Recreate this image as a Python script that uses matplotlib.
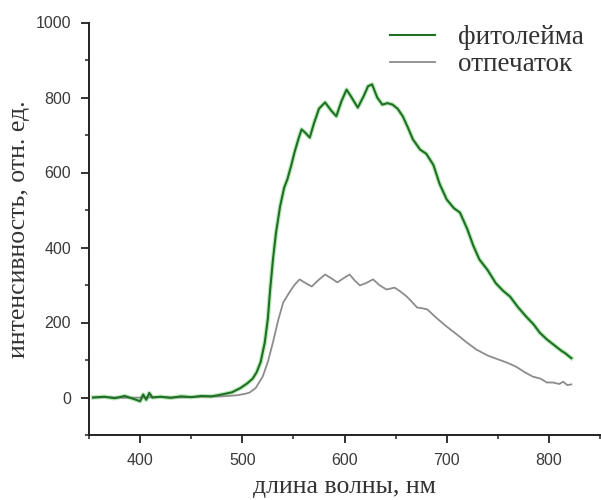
import numpy as np
import matplotlib.pyplot as plt
from matplotlib.ticker import MultipleLocator

# Спектры люминесценции: длина волны (нм) и интенсивность (отн. ед.)
wl_phyto = [354, 365, 375, 385, 395, 400, 403, 406, 409, 412, 420, 430, 440, 450,
            460, 470, 480, 490, 498, 505, 510, 514, 518, 522, 525, 527, 530, 533,
            537, 541, 544, 548, 551, 555, 558, 562, 566, 570, 575, 581, 587, 592,
            597, 602, 607, 613, 619, 623, 627, 632, 637, 642, 647, 652, 657, 662,
            667, 674, 680, 687, 693, 700, 707, 713, 720, 726, 732, 740, 748, 755,
            762, 770, 778, 785, 791, 798, 805, 812, 816, 820, 822]
int_phyto = [0, 2, -2, 4, -5, -10, 8, -6, 12, 0, 2, -1, 3, 1,
             4, 3, 8, 14, 25, 38, 50, 67, 95, 147, 210, 280, 368, 440,
             510, 560, 581, 620, 653, 690, 715, 705, 693, 730, 770, 787, 765, 750,
             790, 821, 800, 773, 805, 830, 835, 800, 781, 785, 781, 770, 750, 720,
             688, 661, 650, 620, 570, 528, 505, 493, 450, 405, 368, 340, 305, 285,
             269, 240, 215, 195, 173, 155, 140, 125, 118, 109, 105]

wl_print = [354, 370, 385, 400, 420, 440, 460, 480, 495, 503, 507, 513, 520, 525,
            530, 535, 540, 546, 551, 556, 562, 568, 574, 581, 587, 593, 599, 605,
            610, 615, 621, 628, 634, 641, 649, 655, 661, 666, 671, 676, 681, 690,
            700, 710, 720, 729, 740, 750, 759, 768, 776, 784, 792, 798, 804, 810,
            814, 818, 822]
int_print = [0, 1, -1, 0, 1, 0, 2, 3, 6, 10, 13, 25, 56, 95,
             147, 205, 253, 280, 300, 315, 305, 296, 312, 328, 318, 307, 318, 328,
             312, 299, 305, 315, 300, 288, 293, 282, 269, 255, 240, 238, 235, 212,
             189, 168, 146, 128, 112, 102, 93, 82, 68, 56, 50, 40, 40, 36,
             42, 33, 35]

x_ticks = [400, 500, 600, 700, 800]
y_ticks = [0, 200, 400, 600, 800, 1000]
series_names = ['фитолейма', 'отпечаток']

fig = plt.figure(figsize=(6.01, 5.0), dpi=100)
ax = fig.add_axes([89 / 601, 65 / 500, 511 / 601, 412.5 / 500])

# зелёная линия с мягким светлым ореолом
ax.plot(wl_phyto, int_phyto, color='#8fdc8f', lw=3.2, alpha=0.6,
        solid_joinstyle='round', zorder=2)
line_g, = ax.plot(wl_phyto, int_phyto, color='#1f6f25', lw=1.5, zorder=3)
line_p, = ax.plot(wl_print, int_print, color='#8c8c8c', lw=1.3, zorder=2)

ax.set_xlim(350, 850)
ax.set_ylim(-100, 1000)
ax.set_xticks(x_ticks)
ax.set_yticks(y_ticks)
ax.xaxis.set_minor_locator(MultipleLocator(50))
ax.yaxis.set_minor_locator(MultipleLocator(100))

for side in ['top', 'right']:
    ax.spines[side].set_visible(False)
for side in ['left', 'bottom']:
    ax.spines[side].set_linewidth(1.4)
    ax.spines[side].set_color('#222222')

ax.tick_params(which='major', direction='out', length=6, width=1.3,
               color='#222222', labelsize=11.5, labelcolor='#3a3a3a', pad=7)
ax.tick_params(which='minor', direction='out', length=3, width=1.1,
               color='#222222')
for lbl in ax.get_xticklabels() + ax.get_yticklabels():
    lbl.set_fontfamily('Liberation Sans')

ax.set_xlabel('длина волны, нм', fontfamily='Liberation Serif', fontsize=18.5,
              color='#333333', va='center', ha='center')
ax.set_ylabel('интенсивность, отн. ед.', fontfamily='Liberation Serif',
              fontsize=18.5, color='#333333', va='center', ha='center')
ax.xaxis.set_label_coords(0.5, -0.126)
ax.yaxis.set_label_coords(-0.137, 0.5)

leg = ax.legend([line_g, line_p], series_names, loc='upper left',
                bbox_to_anchor=(390 / 601, 1 - 25 / 500),
                bbox_transform=fig.transFigure, frameon=False,
                prop={'family': 'Liberation Serif', 'size': 19.5},
                handlelength=1.65, handletextpad=0.85, labelspacing=0.08,
                borderaxespad=0.0, borderpad=0.0)
for t in leg.get_texts():
    t.set_color('#333333')

fig.savefig('out.png', dpi=100)
